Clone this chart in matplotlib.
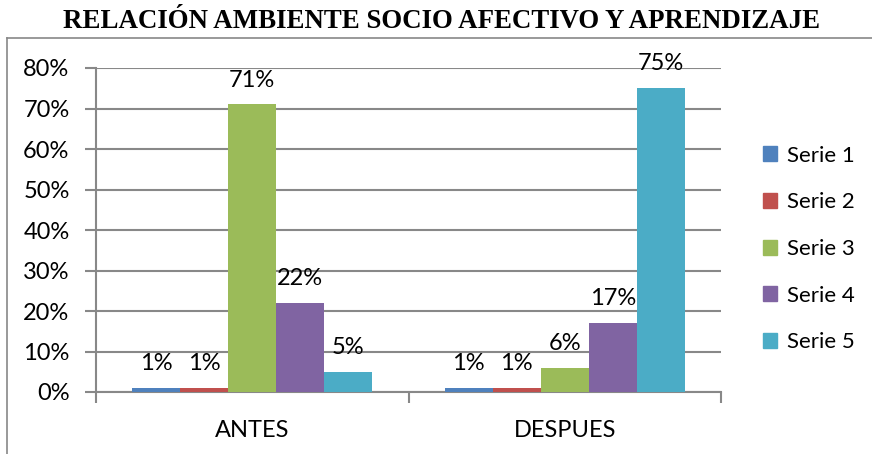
import matplotlib
matplotlib.use('Agg')
import matplotlib.pyplot as plt
from matplotlib.lines import Line2D
from matplotlib.patches import Patch
import numpy as np

# data
categories = ['ANTES', 'DESPUES']
series_names = ['Serie 1', 'Serie 2', 'Serie 3', 'Serie 4', 'Serie 5']
serie1 = [1, 1]
serie2 = [1, 1]
serie3 = [71, 6]
serie4 = [22, 17]
serie5 = [5, 75]
colors = ['#4F81BD', '#C0504D', '#9BBB59', '#8064A2', '#4BACC6']

plt.rcParams['font.family'] = ['Lato', 'DejaVu Sans']

fig = plt.figure(figsize=(8.72, 4.54), dpi=100)
ax = fig.add_axes([96 / 872, 1 - 392 / 454, (721 - 96) / 872, (392 - 68) / 454])

# chart border (top and left edges visible)
fig.add_artist(Line2D([7 / 872, 1], [1 - 38 / 454, 1 - 38 / 454], color='#888888', lw=1.2))
fig.add_artist(Line2D([7 / 872, 7 / 872], [0, 1 - 38 / 454], color='#888888', lw=1.2))

fig.text(442 / 872, 1 - 21 / 454, 'RELACIÓN AMBIENTE SOCIO AFECTIVO Y APRENDIZAJE',
         family='Liberation Serif', weight='bold', fontsize=19.4, ha='center', va='center')

x = np.arange(len(categories))
w = 48 / 312.5
all_series = [serie1, serie2, serie3, serie4, serie5]
for i, vals in enumerate(all_series):
    xs = x + (i - 2) * w
    ax.bar(xs, vals, w, color=colors[i], zorder=3)
    for xx, v in zip(xs, vals):
        ax.text(xx, v + 6.0, f'{v}%', ha='center', va='center', fontsize=17)

ax.set_xlim(-0.5, 1.5)
ax.set_ylim(0, 80)
ax.set_yticks(range(0, 81, 10))
ax.set_yticklabels([f'{t}%' for t in range(0, 81, 10)], fontsize=17)
ax.yaxis.grid(True, color='#888888', lw=1.5, zorder=0)
ax.set_xticks(x)
ax.set_xticklabels(categories, fontsize=17)
ax.tick_params(axis='x', which='major', length=0, pad=20)
ax.set_xticks([-0.5, 0.5, 1.5], minor=True)
ax.tick_params(axis='x', which='minor', length=8, width=1.5, color='#888888', direction='out')
ax.tick_params(axis='y', length=8, width=1.5, color='#888888', pad=11)

for s in ['top', 'right']:
    ax.spines[s].set_visible(False)
for s in ['left', 'bottom']:
    ax.spines[s].set_color('#888888')
    ax.spines[s].set_linewidth(1.5)

handles = [Patch(color=c) for c in colors]
fig.legend(handles, series_names, loc='center left', bbox_to_anchor=(743 / 872, 1 - 249 / 454),
           frameon=False, fontsize=16, handlelength=0.65, handleheight=0.65,
           handletextpad=0.45, labelspacing=1.2)

fig.savefig('out.png', dpi=100)
